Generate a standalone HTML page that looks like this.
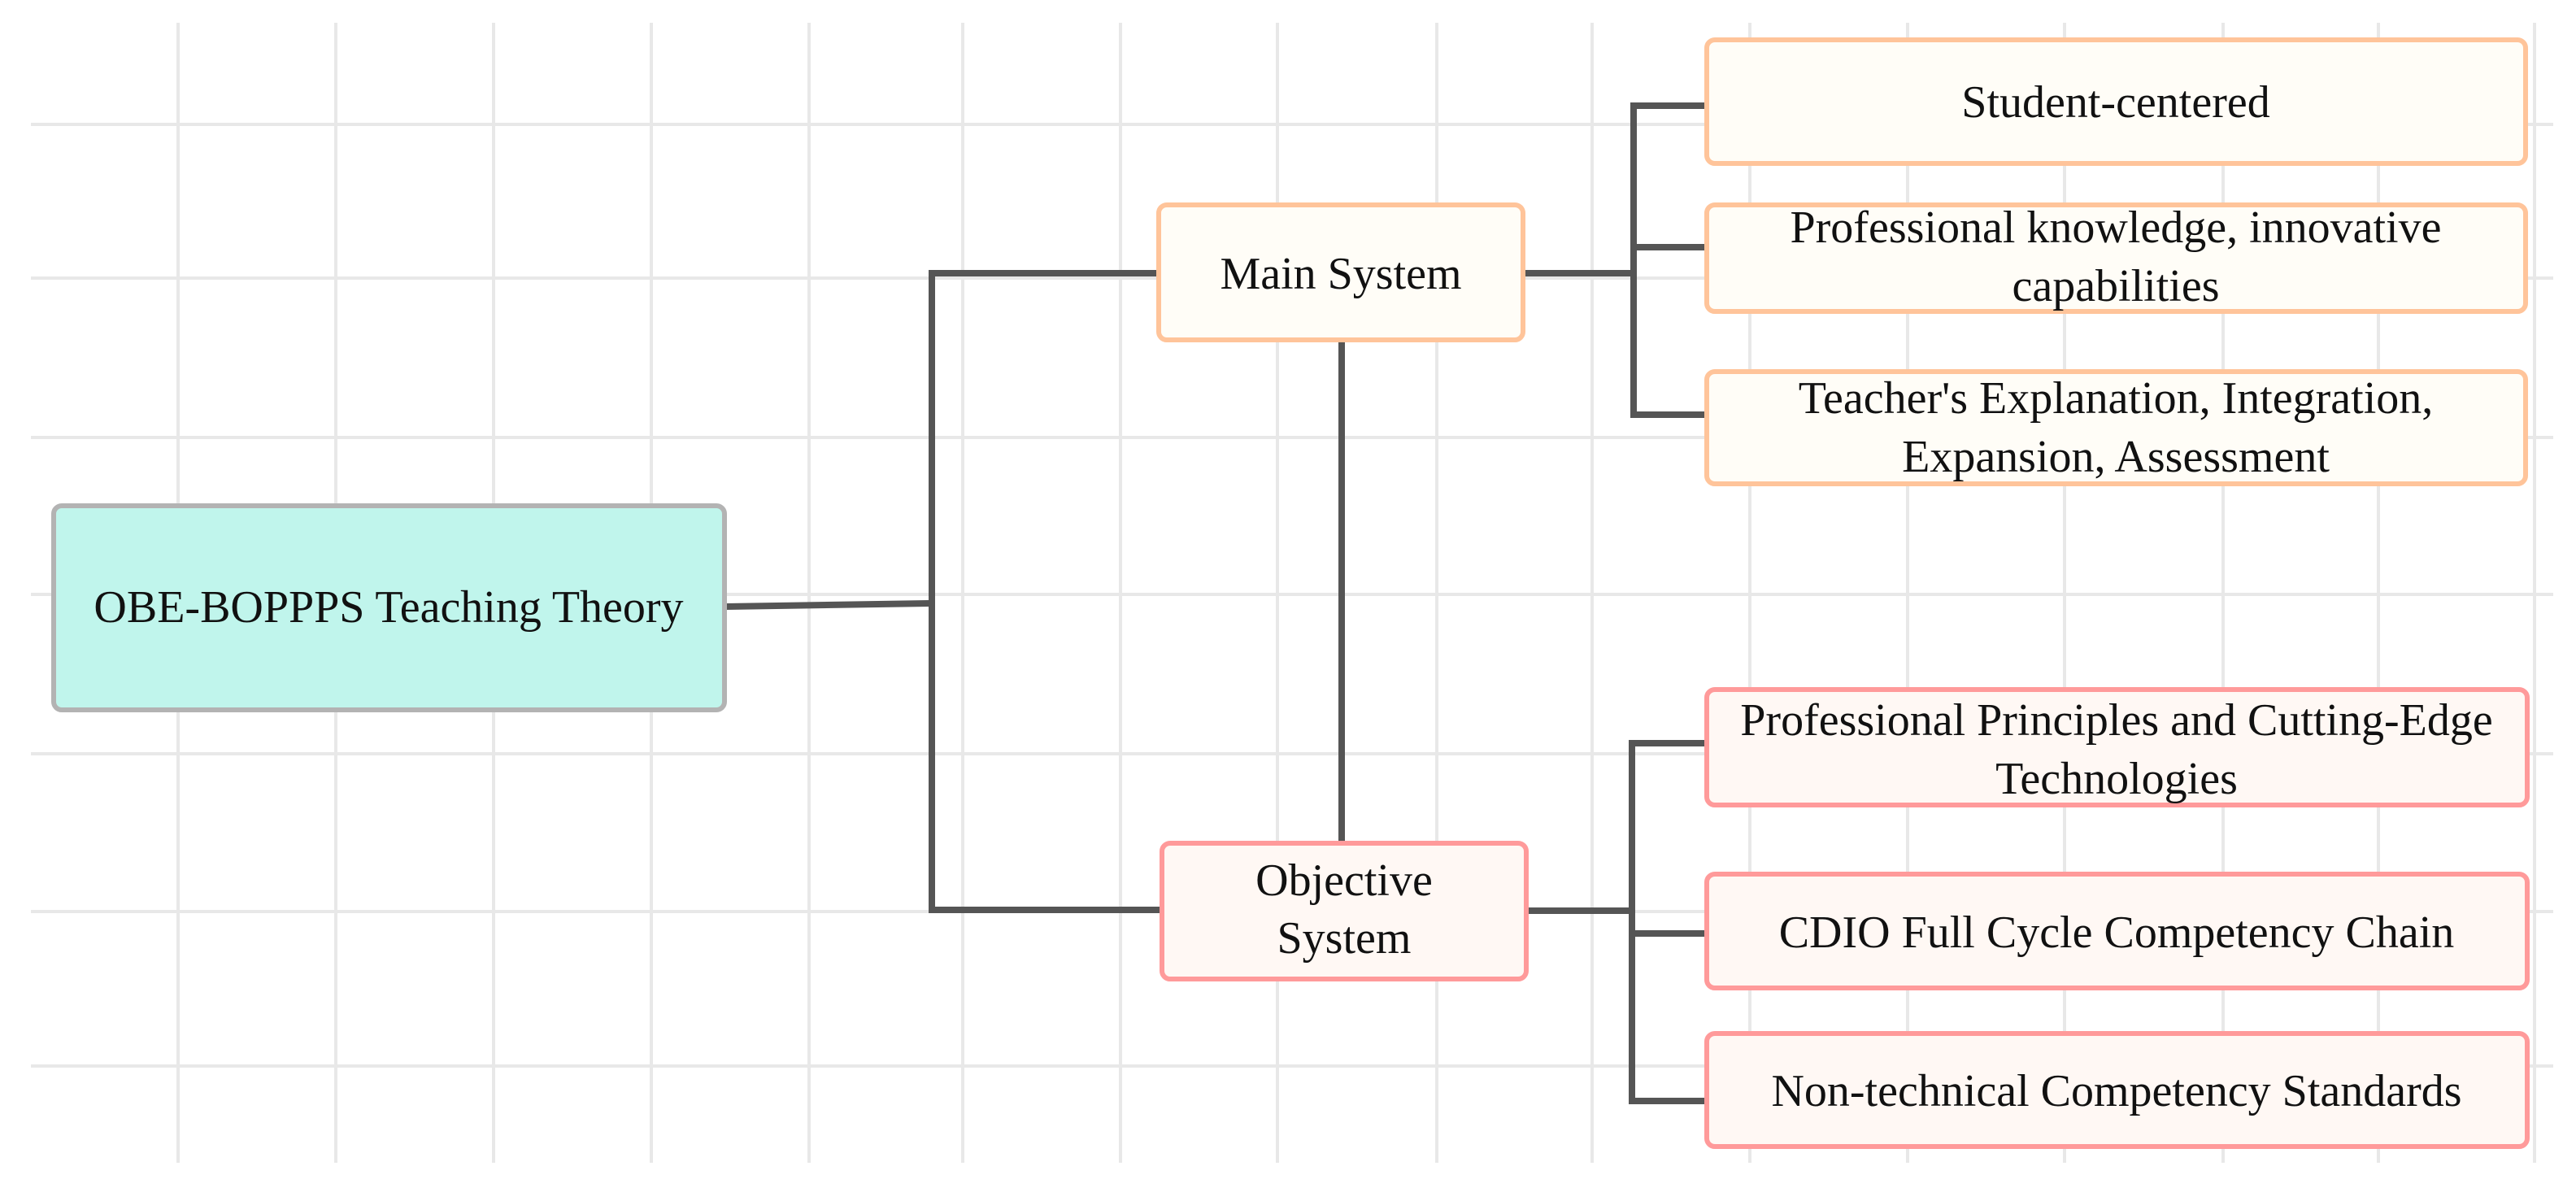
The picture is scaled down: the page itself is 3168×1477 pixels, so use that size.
<!DOCTYPE html>
<html><head><meta charset="utf-8"><style>
html,body{margin:0;padding:0;background:#fff}
svg{display:block}
text{font-family:"Liberation Serif",serif;font-size:56px;fill:#111}
</style></head><body>
<svg width="3168" height="1477" viewBox="0 0 3168 1477" xmlns="http://www.w3.org/2000/svg">
<g stroke="#e8e8e8" stroke-width="4">
<line x1="219" y1="28" x2="219" y2="1430"/><line x1="413" y1="28" x2="413" y2="1430"/>
<line x1="607" y1="28" x2="607" y2="1430"/><line x1="801" y1="28" x2="801" y2="1430"/>
<line x1="995" y1="28" x2="995" y2="1430"/><line x1="1184" y1="28" x2="1184" y2="1430"/>
<line x1="1378" y1="28" x2="1378" y2="1430"/><line x1="1571" y1="28" x2="1571" y2="1430"/>
<line x1="1767" y1="28" x2="1767" y2="1430"/><line x1="1958" y1="28" x2="1958" y2="1430"/>
<line x1="2152" y1="28" x2="2152" y2="1430"/><line x1="2346" y1="28" x2="2346" y2="1430"/>
<line x1="2539" y1="28" x2="2539" y2="1430"/><line x1="2734" y1="28" x2="2734" y2="1430"/>
<line x1="2925" y1="28" x2="2925" y2="1430"/><line x1="3117" y1="28" x2="3117" y2="1430"/>
<line x1="38" y1="153" x2="3140" y2="153"/><line x1="38" y1="342" x2="3140" y2="342"/>
<line x1="38" y1="538" x2="3140" y2="538"/><line x1="38" y1="731" x2="3140" y2="731"/>
<line x1="38" y1="927" x2="3140" y2="927"/><line x1="38" y1="1121" x2="3140" y2="1121"/>
<line x1="38" y1="1311" x2="3140" y2="1311"/>
</g>
<g stroke="#555" stroke-width="8" fill="none">
<polyline points="893,746 1146,742"/>
<polyline points="1423,336 1146,336 1146,1119 1427,1119"/>
<line x1="1650" y1="420" x2="1650" y2="1035"/>
<line x1="1875" y1="336" x2="2009" y2="336"/>
<polyline points="2097,130 2009,130 2009,510 2097,510"/>
<line x1="2009" y1="304" x2="2097" y2="304"/>
<line x1="1879" y1="1120" x2="2007" y2="1120"/>
<polyline points="2097,914 2007,914 2007,1354 2097,1354"/>
<line x1="2007" y1="1148" x2="2097" y2="1148"/>
</g>
<rect x="66" y="622" width="825" height="251" rx="10" fill="#c0f5ec" stroke="#b3b3b3" stroke-width="6"/>
<text x="478" y="765" text-anchor="middle" font-size="60">OBE-BOPPPS Teaching Theory</text>
<rect x="1425" y="252" width="448" height="166" rx="10" fill="#fffdf7" stroke="#ffc49a" stroke-width="6"/>
<text x="1649" y="355" text-anchor="middle" font-size="58">Main System</text>
<rect x="1429" y="1037" width="448" height="167" rx="10" fill="#fff8f4" stroke="#ff9a9a" stroke-width="6"/>
<text x="1653" y="1101" text-anchor="middle" font-size="58">Objective</text>
<text x="1653" y="1172" text-anchor="middle" font-size="58">System</text>
<g fill="#fffdf7" stroke="#ffc49a" stroke-width="6">
<rect x="2099" y="49" width="1007" height="152" rx="10"/>
<rect x="2099" y="252" width="1007" height="131" rx="10"/>
<rect x="2099" y="457" width="1007" height="138" rx="10"/>
</g>
<g fill="#fff8f4" stroke="#ff9a9a" stroke-width="6">
<rect x="2099" y="848" width="1009" height="142" rx="10"/>
<rect x="2099" y="1075" width="1009" height="140" rx="10"/>
<rect x="2099" y="1271" width="1009" height="139" rx="10"/>
</g>
<g text-anchor="middle">
<text x="2602" y="144">Student-centered</text>
<text x="2602" y="298">Professional knowledge, innovative</text>
<text x="2602" y="370">capabilities</text>
<text x="2602" y="508">Teacher's Explanation, Integration,</text>
<text x="2602" y="580">Expansion, Assessment</text>
<text x="2603" y="904">Professional Principles and Cutting-Edge</text>
<text x="2603" y="976">Technologies</text>
<text x="2603" y="1165">CDIO Full Cycle Competency Chain</text>
<text x="2603" y="1360">Non-technical Competency Standards</text>
</g>
</svg>
</body></html>
